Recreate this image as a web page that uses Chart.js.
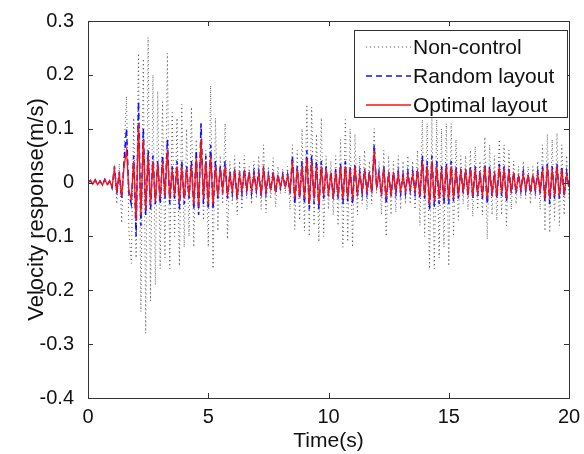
<!DOCTYPE html>
<html lang="en">
<head>
  <meta charset="UTF-8" />
  <title>Velocity response</title>
  <script src="https://cdn.jsdelivr.net/npm/chart.js"></script>
  <style>
    body { margin: 0; background: #fff; }
    canvas { display: block; }
  </style>
</head>
<body>
  <canvas id="velChart" width="584" height="454"></canvas>

  <script>
    const sampleStep = 0.1;

    const nonControl = [
      0, 0.004, -0.003, 0.005, -0.004, 0.003, -0.005, 0.006, -0.004, 0.003,
      -0.01, 0.03, -0.04, 0.035, -0.075, 0.06, 0.16, -0.09, -0.15, 0.12,
      -0.14, 0.24, -0.24, 0.23, -0.28, 0.27, -0.22, 0.2, -0.19, 0.17,
      -0.16, 0.15, -0.14, 0.24, -0.16, 0.13, -0.1, 0.12, -0.155, 0.145,
      -0.12, 0.1, -0.1, 0.14, -0.12, 0.08, -0.06, 0.11, -0.07, 0.06,
      -0.12, 0.18, -0.16, 0.12, -0.09, 0.05, -0.04, 0.11, -0.105, 0.04,
      -0.04, 0.05, -0.06, 0.04, -0.05, 0.05, -0.03, 0.03, -0.04, 0.04,
      -0.03, 0.05, -0.05, 0.07, -0.056, 0.03, -0.03, 0.046, -0.045, 0.03,
      -0.02, 0.025, -0.02, 0.03, -0.05, 0.07, -0.087, 0.06, -0.07, 0.1,
      -0.09, 0.145, -0.1, 0.14, -0.08, 0.09, -0.11, 0.12, -0.1, 0.05,
      -0.05, 0.04, -0.06, 0.05, -0.08, 0.08, -0.12, 0.117, -0.11, 0.1,
      -0.12, 0.09, -0.06, 0.05, -0.04, 0.06, -0.05, 0.04, -0.04, 0.1,
      -0.02, 0.04, -0.06, 0.06, -0.1, 0.05, -0.06, 0.04, -0.055, 0.05,
      -0.05, 0.04, -0.04, 0.05, -0.04, 0.04, -0.05, 0.06, -0.08, 0.117,
      -0.1, 0.11, -0.16, 0.12, -0.16, 0.117, -0.14, 0.1, -0.12, 0.11,
      -0.155, 0.11, -0.1, 0.08, -0.07, 0.05, -0.04, 0.05, -0.05, 0.06,
      -0.063, 0.067, -0.05, 0.04, -0.06, 0.085, -0.105, 0.07, -0.06, 0.05,
      -0.07, 0.08, -0.06, 0.07, -0.08, 0.06, -0.05, 0.04, -0.04, 0.03,
      -0.03, 0.04, -0.03, 0.03, -0.04, 0.03, -0.03, 0.04, -0.05, 0.07,
      -0.09, 0.09, -0.093, 0.08, -0.07, 0.092, -0.08, 0.07, -0.06, 0.05,
      -0.03
    ];

    const randomLayout = [
      0, 0.004, -0.003, 0.005, -0.004, 0.003, -0.005, 0.006, -0.004, 0.003,
      -0.01, 0.03, -0.02, 0.02, -0.03, 0.04, 0.1, -0.02, -0.04, 0.05,
      -0.1, 0.15, -0.08, 0.1, -0.06, 0.06, -0.05, 0.05, -0.04, 0.04,
      -0.04, 0.05, -0.03, 0.08, -0.04, 0.03, -0.03, 0.04, -0.05, 0.04,
      -0.04, 0.03, -0.03, 0.04, -0.05, 0.06, -0.06, 0.11, -0.04, 0.05,
      -0.05, 0.07, -0.05, 0.04, -0.03, 0.03, -0.02, 0.04, -0.03, 0.02,
      -0.02, 0.025, -0.03, 0.02, -0.02, 0.025, -0.015, 0.02, -0.02, 0.02,
      -0.015, 0.02, -0.025, 0.03, -0.02, 0.015, -0.015, 0.02, -0.02, 0.015,
      -0.01, 0.015, -0.01, 0.015, -0.02, 0.05, -0.04, 0.03, -0.03, 0.04,
      -0.04, 0.06, -0.05, 0.05, -0.04, 0.04, -0.05, 0.04, -0.03, 0.03,
      -0.025, 0.02, -0.03, 0.025, -0.03, 0.035, -0.04, 0.04, -0.035, 0.03,
      -0.04, 0.035, -0.025, 0.02, -0.02, 0.025, -0.02, 0.02, -0.02, 0.07,
      -0.01, 0.02, -0.025, 0.03, -0.04, 0.02, -0.025, 0.02, -0.02, 0.02,
      -0.02, 0.015, -0.02, 0.02, -0.015, 0.02, -0.02, 0.025, -0.03, 0.05,
      -0.03, 0.04, -0.05, 0.05, -0.045, 0.04, -0.04, 0.03, -0.04, 0.035,
      -0.04, 0.04, -0.035, 0.03, -0.03, 0.025, -0.02, 0.025, -0.025, 0.03,
      -0.03, 0.03, -0.025, 0.02, -0.03, 0.035, -0.04, 0.03, -0.025, 0.02,
      -0.03, 0.035, -0.025, 0.03, -0.035, 0.025, -0.02, 0.02, -0.02, 0.015,
      -0.015, 0.02, -0.015, 0.015, -0.02, 0.015, -0.015, 0.02, -0.02, 0.03,
      -0.035, 0.035, -0.04, 0.03, -0.03, 0.035, -0.03, 0.03, -0.025, 0.02,
      -0.01
    ];

    const optimalLayout = [
      0, 0.004, -0.003, 0.005, -0.004, 0.003, -0.005, 0.006, -0.004, 0.003,
      -0.008, 0.025, -0.015, 0.015, -0.025, 0.03, 0.06, -0.015, -0.03, 0.04,
      -0.07, 0.11, -0.06, 0.08, -0.05, 0.05, -0.04, 0.04, -0.035, 0.035,
      -0.03, 0.04, -0.025, 0.06, -0.03, 0.025, -0.025, 0.03, -0.035, 0.03,
      -0.03, 0.025, -0.025, 0.03, -0.04, 0.045, -0.045, 0.08, -0.03, 0.04,
      -0.04, 0.05, -0.04, 0.03, -0.025, 0.025, -0.015, 0.03, -0.025, 0.015,
      -0.015, 0.02, -0.025, 0.015, -0.015, 0.02, -0.012, 0.015, -0.015, 0.015,
      -0.012, 0.015, -0.02, 0.025, -0.015, 0.012, -0.012, 0.015, -0.015, 0.012,
      -0.008, 0.012, -0.008, 0.012, -0.015, 0.04, -0.03, 0.025, -0.025, 0.03,
      -0.03, 0.045, -0.04, 0.04, -0.03, 0.03, -0.04, 0.03, -0.025, 0.025,
      -0.02, 0.015, -0.025, 0.02, -0.025, 0.03, -0.03, 0.03, -0.03, 0.025,
      -0.03, 0.03, -0.02, 0.015, -0.015, 0.02, -0.015, 0.015, -0.015, 0.06,
      -0.008, 0.015, -0.02, 0.025, -0.03, 0.015, -0.02, 0.015, -0.015, 0.015,
      -0.015, 0.012, -0.015, 0.015, -0.012, 0.015, -0.015, 0.02, -0.025, 0.04,
      -0.025, 0.03, -0.04, 0.04, -0.035, 0.03, -0.03, 0.025, -0.03, 0.03,
      -0.03, 0.03, -0.03, 0.025, -0.025, 0.02, -0.015, 0.02, -0.02, 0.025,
      -0.025, 0.025, -0.02, 0.015, -0.025, 0.03, -0.03, 0.025, -0.02, 0.015,
      -0.025, 0.03, -0.02, 0.025, -0.03, 0.02, -0.015, 0.015, -0.015, 0.012,
      -0.012, 0.015, -0.012, 0.012, -0.015, 0.012, -0.012, 0.015, -0.015, 0.025,
      -0.03, 0.03, -0.03, 0.025, -0.025, 0.03, -0.025, 0.025, -0.02, 0.015,
      -0.008
    ];

    const xTicks = [0, 5, 10, 15, 20];
    const yTicks = [-0.4, -0.3, -0.2, -0.1, 0, 0.1, 0.2, 0.3];

    const timeLabels = nonControl.map((_, i) => +(i * sampleStep).toFixed(1));
    const toPoints = arr => arr.map((v, i) => ({ x: timeLabels[i], y: v }));

    const FONT = 'Liberation Sans, Arial, sans-serif';

    // MATLAB style box with inward ticks
    const boxPlugin = {
      id: 'box',
      afterDatasetsDraw(chart) {
        const { ctx, chartArea: a, scales: { x, y } } = chart;
        ctx.save();
        ctx.strokeStyle = '#333';
        ctx.lineWidth = 1;
        ctx.strokeRect(a.left + 0.5, a.top + 0.5, a.right - a.left, a.bottom - a.top);
        ctx.beginPath();
        xTicks.forEach(v => {
          const px = Math.round(x.getPixelForValue(v)) + 0.5;
          ctx.moveTo(px, a.bottom); ctx.lineTo(px, a.bottom - 5);
          ctx.moveTo(px, a.top); ctx.lineTo(px, a.top + 5);
        });
        yTicks.forEach(v => {
          const py = Math.round(y.getPixelForValue(v)) + 0.5;
          ctx.moveTo(a.left, py); ctx.lineTo(a.left + 5, py);
          ctx.moveTo(a.right, py); ctx.lineTo(a.right - 5, py);
        });
        ctx.stroke();
        ctx.restore();
      }
    };

    // boxed legend in the upper right corner
    const legendPlugin = {
      id: 'boxLegend',
      afterDraw(chart) {
        const ctx = chart.ctx;
        const bx = 354, by = 30, bw = 213, bh = 87;
        ctx.save();
        ctx.fillStyle = '#fff';
        ctx.fillRect(bx, by, bw, bh);
        ctx.strokeStyle = '#333';
        ctx.lineWidth = 1;
        ctx.strokeRect(bx + 0.5, by + 0.5, bw, bh);
        ctx.font = '21px ' + FONT;
        ctx.textBaseline = 'middle';
        chart.data.datasets.forEach((ds, i) => {
          const cy = 47 + i * 29;
          ctx.beginPath();
          ctx.setLineDash(ds.borderDash || []);
          ctx.strokeStyle = ds.borderColor;
          ctx.lineWidth = ds.borderWidth;
          ctx.moveTo(366, cy);
          ctx.lineTo(411, cy);
          ctx.stroke();
          ctx.setLineDash([]);
          ctx.fillStyle = '#111';
          ctx.fillText(ds.label, 413, cy + 1);
        });
        ctx.restore();
      }
    };

    new Chart(document.getElementById('velChart'), {
      type: 'line',
      data: {
        datasets: [
          {
            label: 'Non-control',
            data: toPoints(nonControl),
            borderColor: '#555',
            borderWidth: 1,
            borderDash: [1, 3],
            order: 2
          },
          {
            label: 'Random layout',
            data: toPoints(randomLayout),
            borderColor: '#1010ff',
            borderWidth: 1.5,
            borderDash: [6, 4],
            order: 1
          },
          {
            label: 'Optimal layout',
            data: toPoints(optimalLayout),
            borderColor: '#ff1010',
            borderWidth: 1.3,
            order: 0
          }
        ]
      },
      options: {
        responsive: false,
        animation: false,
        elements: { point: { radius: 0 }, line: { tension: 0 } },
        layout: { padding: { top: 21, right: 15, left: 0, bottom: 0 } },
        plugins: { legend: { display: false }, tooltip: { enabled: false } },
        scales: {
          x: {
            type: 'linear',
            min: 0,
            max: 20,
            grid: { display: false },
            border: { display: false },
            ticks: { stepSize: 5, maxRotation: 0, padding: -1, color: '#111', font: { family: FONT, size: 20 } },
            title: { display: true, text: 'Time(s)', color: '#111', padding: 0, font: { family: FONT, size: 21 } },
            afterFit: s => { s.height = 56; }
          },
          y: {
            min: -0.4,
            max: 0.3,
            grid: { display: false },
            border: { display: false },
            ticks: {
              stepSize: 0.1,
              padding: 6,
              color: '#111',
              font: { family: FONT, size: 20 },
              callback: v => String(+v.toFixed(1))
            },
            title: { display: true, text: 'Velocity response(m/s)', color: '#111', padding: { top: 24, bottom: 0 }, font: { family: FONT, size: 22 } },
            afterFit: s => { s.width = 88; }
          }
        }
      },
      plugins: [boxPlugin, legendPlugin]
    });
  </script>
</body>
</html>
